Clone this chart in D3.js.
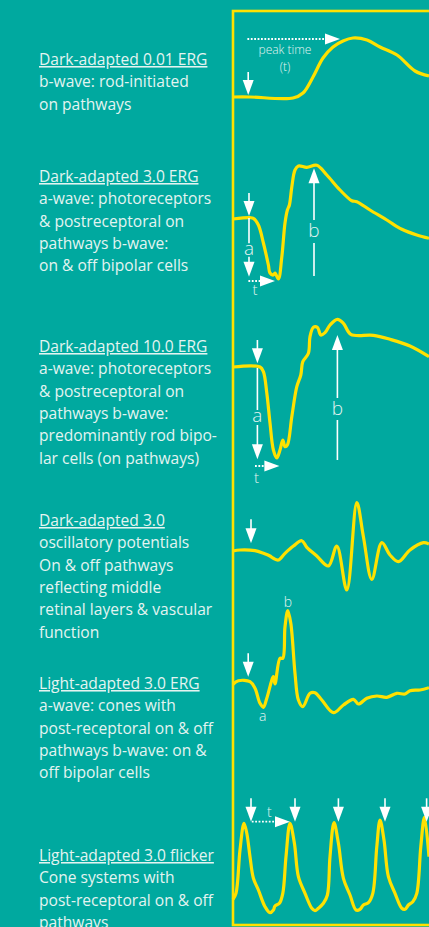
<!DOCTYPE html>
<html>
<head>
<meta charset="utf-8">
<script src="https://cdn.jsdelivr.net/npm/d3@7"></script>
<style>
  html, body { margin: 0; padding: 0; background: #00a99f; overflow: hidden; }
</style>
</head>
<body>
<div id="cnt"></div>
<script>
let ancho = 429;
let largo = 927;

// Textos de la columna izquierda
let titulos = [
  "Dark-adapted 0.01 ERG",
  "Dark-adapted 3.0 ERG",
  "Dark-adapted 10.0 ERG",
  "Dark-adapted 3.0",
  "Light-adapted 3.0 ERG",
  "Light-adapted 3.0 flicker"
];
let descripciones = [
  ["b-wave: rod-initiated", "on pathways"],
  ["a-wave: photoreceptors", "& postreceptoral on", "pathways b-wave:", "on & off bipolar cells"],
  ["a-wave: photoreceptors", "& postreceptoral on", "pathways b-wave:", "predominantly rod bipo-", "lar cells (on pathways)"],
  ["oscillatory potentials", "On & off pathways", "reflecting middle", "retinal layers & vascular", "function"],
  ["a-wave: cones with", "post-receptoral on & off", "pathways b-wave: on &", "off bipolar cells"],
  ["Cone systems with", "post-receptoral on & off", "pathways"]
];

// Curvas (tiempo ms, amplitud)
let t1 = [0, 8.5, 30, 35, 40, 45, 50, 55, 60, 67, 73.5, 82, 91, 98];
let v1 = [0, 0, -1, 4, 20, 39, 50, 56, 59, 57, 50, 42, 26, 21];

let t2 = [0, 8.5, 10.2, 12.7, 15.2, 17.7, 18.5, 20.2, 21, 22.7, 24.4, 26, 27.2, 28.2, 29.4, 31, 32.7, 36.9, 41.9, 46.9, 53.5, 59.4, 61.9, 68.5, 76.9, 84.4, 91.9, 98];
let v2 = [-1, 0.3, -0.3, -7, -25, -47, -55, -57, -55, -61, -39, -5, 8, 13, 31, 48, 52, 50.7, 52.7, 43, 28, 17.3, 16.3, 8, -2, -11.3, -17, -20.3];

let t3 = [0, 13.5, 15.2, 16.9, 18.5, 20.2, 21.9, 23.5, 24.9, 26, 27.2, 29.4, 31.9, 33.9, 34.9, 37.7, 38.5, 40.2, 42.2, 43.9, 46, 48.5, 52.2, 55.2, 58.9, 70.2, 78.5, 88.5, 98];
let v3 = [0, 0, -4.7, -26, -56, -83, -91, -83, -73, -79.7, -78, -49.7, -19.7, -8, 5.3, 13.7, 30.3, 39.7, 39.7, 32, 34.3, 42, 47.7, 43.7, 32.7, 31.7, 27.7, 21, 10.3];

let t4 = [0, 3.5, 11, 15.2, 18.5, 20.2, 22.7, 26, 30.2, 34.4, 36.9, 41.9, 47.7, 51.9, 56.9, 61.9, 65.2, 69.4, 74.4, 78.5, 82.7, 88.5, 95.2, 98];
let v4 = [0, 1, 0.3, -2.3, -5, -7.3, -9, -2.3, 5, 10.3, 3.7, -5, -15, 5, -39, 48.3, 14.3, -28.3, 8.3, -4, -10.7, 1, 8.3, 7];

let t5 = [0, 2.7, 8.5, 11, 13.5, 15.2, 16.9, 20.2, 21, 23.5, 24.9, 26, 27.4, 28.9, 31, 32.7, 34.9, 38.5, 41, 44.4, 50.2, 55.2, 60.2, 62.7, 66.9, 71.9, 76.9, 81.9, 86, 88.5, 93.5, 98];
let v5 = [-2.3, 1.3, 0.3, -6.3, -21.3, -25.3, -16.3, 5.3, -2, 23.7, 23.7, 55.3, 71.3, 58.7, 8.7, -18, -24.7, -11.3, -10.7, -18, -30.7, -23, -17.3, -22, -16.3, -14, -15.3, -11.3, -12, -8.7, -8, -5.7];

let t6 = [0, 1.5, 3.5, 5.5, 6.9, 8.5, 10.2, 12.7, 16, 18.5, 20.2, 21, 23.2, 24.9, 26.5, 28.5,
          30.7, 32.7, 36, 39.4, 41, 42.7, 45.2, 47.2, 48.5, 50.5,
          52.7, 55.2, 58.5, 61.5, 63.5, 65.2, 67.7, 69.9, 71.9, 73.5,
          75.5, 77.7, 81, 84.4, 86, 87.7, 89.9, 91.9, 93.9, 95.7, 98];
let v6 = [0.7, 6.7, 50, 76.7, 66.7, 43.3, 21.7, 10, -6.7, -12.7, -10, -6, -3.3, 6.7, 43.3, 76.7,
          56.7, 23.3, 6.7, -8.3, -10.7, -8.3, -3.3, 5, 43.3, 77.3,
          56.7, 21.7, 5, -10, -9.3, -5, -2.7, 6.7, 53.3, 80,
          60, 23.3, 6.7, -8.3, -9.3, -5, -1.7, 6.7, 53.3, 82.7, 43.3];

let tiempos = [t1, t2, t3, t4, t5, t6];
let amplitudes = [v1, v2, v3, v4, v5, v6];

// Marcas de estimulo (tiempo) por curva
let estimulos = [[7.6], [8], [12.2], [9], [7.6], [9, 31, 52.7, 76, 96.8]];

let amarillo = "#ffe100";
let blanco = "#ffffff";
let colorTexto = "#e4f4f1";

let baseY = [97, 218, 367, 551, 682, 900];
let tituloY = [65, 182, 352, 526, 689, 861];
let interlinea = 22.3;

let x = d3.scaleLinear().domain([0, 98]).range([233, 429]);
let escalasY = baseY.map(b => d3.scaleLinear().domain([-100, 100]).range([b + 100, b - 100]));

let svg = d3.select('#cnt')
    .append("svg")
    .attr('width', ancho)
    .attr('height', largo)
    .style('display', 'block');

svg.append("rect")
    .attr('width', ancho)
    .attr('height', largo)
    .style('fill', '#00a99f');

//Textos
titulos.forEach(function (tit, i) {
    let tx = svg.append("text")
        .attr("x", 39)
        .attr("y", tituloY[i])
        .style("font-family", "'Open Sans', sans-serif")
        .style("font-size", "15.6px")
        .style("fill", colorTexto);
    tx.append("tspan")
        .attr("x", 39)
        .style("text-decoration", "underline")
        .text(tit);
    descripciones[i].forEach(function (l, j) {
        tx.append("tspan")
            .attr("x", 39)
            .attr("y", tituloY[i] + interlinea * (j + 1))
            .text(l);
    });
});

//Marco amarillo
svg.append("rect")
    .attr('x', 233)
    .attr('y', 11)
    .attr('width', 400)
    .attr('height', 914)
    .style('fill', 'none')
    .style('stroke', amarillo)
    .style('stroke-width', 2.6);

//Curvas
tiempos.forEach(function (ts, i) {
    let y = escalasY[i];
    let linea = d3.line()
        .x(d => x(d[0]))
        .y(d => y(d[1]))
        .curve(d3.curveCatmullRom.alpha(0.5));
    svg.append("path")
        .datum(ts.map((t, k) => [t, amplitudes[i][k]]))
        .attr("d", linea)
        .style("fill", "none")
        .style("stroke", amarillo)
        .style("stroke-width", 3.2)
        .style("stroke-linejoin", "round");
});

// Flechas
function palo(x1, y1, x2, y2, punteado) {
    svg.append("line")
        .attr("x1", x1).attr("y1", y1)
        .attr("x2", x2).attr("y2", y2)
        .style("stroke", blanco)
        .style("stroke-width", punteado ? 1.8 : 1.6)
        .style("stroke-dasharray", punteado ? "1.8,1.6" : null);
}
function punta(px, py, dir) {
    // dir: 'abajo', 'arriba', 'derecha'
    let pts;
    if (dir === 'abajo') pts = [[px - 5.5, py - 15], [px + 5.5, py - 15], [px, py]];
    if (dir === 'arriba') pts = [[px - 5.5, py + 15], [px + 5.5, py + 15], [px, py]];
    if (dir === 'derecha') pts = [[px - 15, py - 5.5], [px - 15, py + 5.5], [px, py]];
    svg.append("polygon")
        .attr("points", pts.map(p => p.join(",")).join(" "))
        .style("fill", blanco);
}
function etiqueta(tx, px, py, tam) {
    svg.append("text")
        .attr("x", px)
        .attr("y", py)
        .attr("text-anchor", "middle")
        .style("font-family", "'Open Sans', sans-serif")
        .style("font-weight", 300)
        .style("font-size", tam + "px")
        .style("fill", colorTexto)
        .text(tx);
}

//Flechas de estimulo
estimulos.forEach(function (lista, i) {
    let y = escalasY[i];
    let alto = i === 5 ? [101.7, 78.3] : [25, 2];
    if (i === 2) alto = [27, 3.7];
    if (i === 3) alto = [31.7, 7.7];
    if (i === 4) alto = [28.7, 5.3];
    lista.forEach(function (t) {
        palo(x(t), y(alto[0]), x(t), y(alto[1]) - 12);
        punta(x(t), y(alto[1]), 'abajo');
    });
});

// Curva 1: peak time
let y1 = escalasY[0];
palo(x(7.2), y1(58), x(53.5) - 14, y1(58), true);
punta(x(53.5), y1(58), 'derecha');
etiqueta("peak time", x(26), y1(43), 12);
etiqueta("(t)", x(26), y1(26), 12);

// Curva 2: a, b, t
let y2 = escalasY[1];
palo(x(8), y2(0), x(8), y2(-25.3));
palo(x(8), y2(-38.7), x(8), y2(-46));
punta(x(8), y2(-58.7), 'abajo');
etiqueta("a", x(8), y2(-37), 19);
palo(x(7.7), y2(-63), x(21) - 14, y2(-63), true);
punta(x(21), y2(-63), 'derecha');
etiqueta("t", x(11), y2(-77), 15);
palo(x(40.5), y2(-58), x(40.5), y2(-25));
palo(x(40.5), y2(-2), x(40.5), y2(36));
punta(x(40.5), y2(49.7), 'arriba');
etiqueta("b", x(40.5), y2(-18.7), 19);

// Curva 3: a, b, t
let y3 = escalasY[2];
palo(x(12.2), y3(-1), x(12.2), y3(-43));
palo(x(12.2), y3(-58), x(12.2), y3(-79));
punta(x(12.2), y3(-92.3), 'abajo');
etiqueta("a", x(12.2), y3(-54.7), 19);
palo(x(11), y3(-99), x(23.2) - 14, y3(-99), true);
punta(x(23.2), y3(-99), 'derecha');
etiqueta("t", x(11.8), y3(-116), 15);
palo(x(52.2), y3(-93), x(52.2), y3(-53));
palo(x(52.2), y3(-31), x(52.2), y3(18));
punta(x(52.2), y3(32), 'arriba');
etiqueta("b", x(52.2), y3(-48), 19);

// Curva 5: etiquetas a y b
let y5 = escalasY[4];
etiqueta("a", x(14.8), y5(-38.7), 14);
etiqueta("b", x(27.4), y5(75.3), 14);

// Curva 6: t
let y6 = escalasY[5];
palo(x(9.4), y6(78.3), x(28.5) - 14, y6(78.3), true);
punta(x(28.5), y6(78.3), 'derecha');
etiqueta("t", x(18.2), y6(83.3), 14);
</script>
</body>
</html>
